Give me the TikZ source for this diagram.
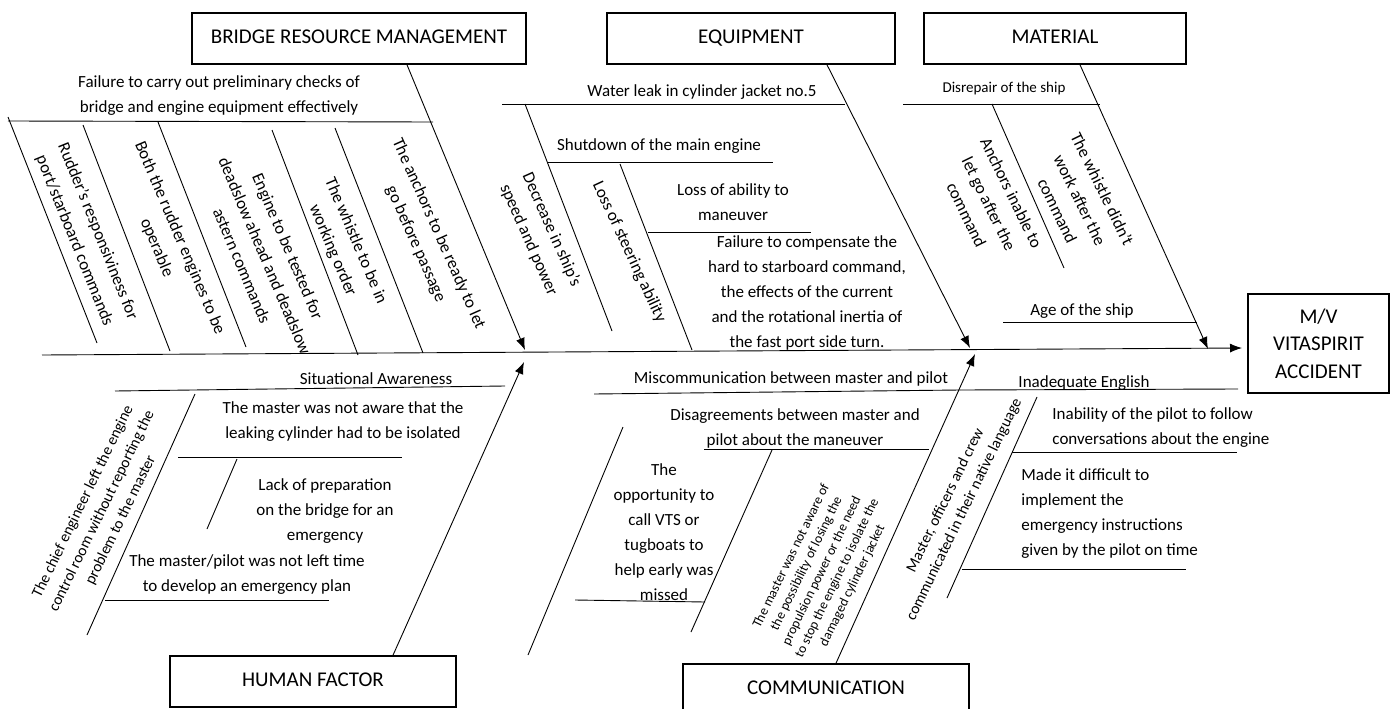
\documentclass[tikz,border=0pt]{standalone}
\usepackage{fontspec}
\setmainfont{Carlito}
\usetikzlibrary{arrows.meta}

\begin{document}
\begin{tikzpicture}[x=1pt,y=-1pt,line width=0.9pt,
  box/.style={draw,line width=1.6pt,minimum height=51pt,inner sep=0pt,align=center,font=\fontsize{21}{27.5}\selectfont},
  title/.style={box,text height=14pt,text depth=4pt},
  cause/.style={align=center,inner sep=0pt,font=\fontsize{17}{25}\selectfont},
  smallcause/.style={cause,font=\fontsize{15.5}{21}\selectfont},
  tinycause/.style={cause,font=\fontsize{13.5}{17}\selectfont},
  bone/.style={-{Latex[length=12pt,width=9pt]}}]
\useasboundingbox (0,0) rectangle (1392,709);
\clip (0,0) rectangle (1392,709);

\node[title,minimum width=334pt] (brm) at (359,38.5) {BRIDGE RESOURCE MANAGEMENT};
\node[title,minimum width=288pt] (eq) at (751,38.5) {EQUIPMENT};
\node[title,minimum width=262pt] (mat) at (1055,38.5) {MATERIAL};
\node[title,minimum width=286pt] (hf) at (313,681.5) {HUMAN FACTOR};
\node[title,minimum width=286pt] (com) at (826,689.5) {COMMUNICATION};
\node[box,minimum width=141pt,minimum height=99pt] (acc) at (1318.5,343.5) {M/V\\VITASPIRIT\\ACCIDENT};

\coordinate (tail) at (42,355);
\coordinate (head) at (1242,348);
\draw[bone] (tail) -- (head);

\coordinate (brmtip) at (525,350);
\coordinate (eqtip) at (970,348);
\coordinate (mattip) at (1208,349);
\coordinate (hftip) at (524,362);
\coordinate (comtip) at (975,354);
\draw[bone] ([xshift=48pt]brm.south) -- (brmtip);
\draw[bone] ([xshift=76pt]eq.south) -- (eqtip);
\draw[bone] ([xshift=25pt]mat.south) -- (mattip);
\draw[bone] ([xshift=80pt]hf.north) -- (hftip);
\draw[bone] ([xshift=10pt]com.north) -- (comtip);

\node[cause] (checks) at (219,96) {Failure to carry out preliminary checks of\\bridge and engine equipment effectively};
\draw (8,121) -- (433,122);
\draw (8,117) -- (97,343);
\draw (83,125) -- (170,351);
\draw (158,122) -- (246,347);
\draw (272,130) -- (358,355);
\draw (335,128) -- (423,353);
\node[cause,rotate=-68] (rudder) at (86,236) {Rudder’s responsiviness for\\port/starboard commands};
\node[cause,rotate=-67] (engines) at (168,243) {Both the rudder engines to be\\operable};
\node[cause,rotate=-67] (tested) at (265,256) {Engine to be tested for\\deadslow ahead and deadslow\\astern commands};
\node[cause,rotate=-67] (whistle) at (344,246) {The whistle to be in\\working order};
\node[cause,rotate=-66] (anchors) at (427,239) {The anchors to be ready to let\\go before passage};

\node[cause] (leak) at (702,92) {Water leak in cylinder jacket no.5};
\draw (502,104) -- (845,104);
\draw (525,104) -- (612,331);
\node[cause] (shutdown) at (659,146) {Shutdown of the main engine};
\draw (547,162) -- (773,162);
\draw (620,164) -- (692,350);
\node[cause] (ability) at (733,202) {Loss of ability to\\maneuver};
\draw (648,232) -- (811,232);
\node[cause] (compensate) at (807,293) {Failure to compensate the\\hard to starboard command,\\the effects of the current\\and the rotational inertia of\\the fast port side turn.};
\node[cause,rotate=-66] (speed) at (540,235) {Decrease in ship’s\\speed and power};
\node[cause,rotate=-65] (steering) at (629,252) {Loss of steering ability};

\node[cause,font=\fontsize{15}{21}\selectfont] (disrepair) at (1004,89) {Disrepair of the ship};
\draw (903,104) -- (1100,104);
\draw (992,104) -- (1064,268);
\node[cause,rotate=-64] (inable) at (989,204) {Anchors inable to\\let go after the\\command};
\node[cause,rotate=-64] (didnt) at (1080,200) {The whistle didn’t\\work after the\\command};
\node[cause] (age) at (1082,311) {Age of the ship};
\draw (1003,322) -- (1197,322);

\node[cause] (aware) at (376,379) {Situational Awareness};
\draw (115,391) -- (505,386);
\draw (195,394) -- (87,635);
\node[smallcause,rotate=64] (chief) at (102,511) {The chief engineer left the engine\\control room without reporting the\\problem to the master};
\node[cause] (isolated) at (343,422) {The master was not aware that the\\leaking cylinder had to be isolated};
\draw (178,457) -- (402,457);
\draw (237,459) -- (207,529);
\node[cause] (preparation) at (325,511) {Lack of preparation\\on the bridge for an\\emergency};
\node[cause] (plan) at (247,575) {The master/pilot was not left time\\to develop an emergency plan};
\draw (105,600) -- (329,600);

\node[cause] (miscom) at (791,379) {Miscommunication between master and pilot};
\draw (594,394) -- (960,390);
\node[cause] (english) at (1084,383) {Inadequate English};
\draw (960,390) -- (1238,389);
\draw (623,427) -- (528,655);
\node[cause] (disagree) at (795,428) {Disagreements between master and\\pilot about the maneuver};
\draw (704,449) -- (929,449);
\draw (772,450) -- (691,632);
\node[cause] (vts) at (664,532) {The\\opportunity to\\call VTS or\\tugboats to\\help early was\\missed};
\draw (575,600) -- (705,602);
\node[tinycause,rotate=64] (propulsion) at (822,571) {The master was not aware of\\the possibility of losing the\\propulsion power or the need\\to stop the engine to isolate the\\damaged cylinder jacket};
\node[smallcause,rotate=64] (native) at (955,505) {Master, officers and crew\\communicated in their native language};
\draw (1037,397) -- (947,598);
\node[cause,align=left,anchor=west] (follow) at (1052,427.5) {Inability of the pilot to follow\\conversations about the engine};
\draw (1012,452) -- (1237,452);
\node[cause,align=left,anchor=west] (instructions) at (1021,513.5) {Made it difficult to\\implement the\\emergency instructions\\given by the pilot on time};
\draw (962,569) -- (1186,569);
\end{tikzpicture}
\end{document}
